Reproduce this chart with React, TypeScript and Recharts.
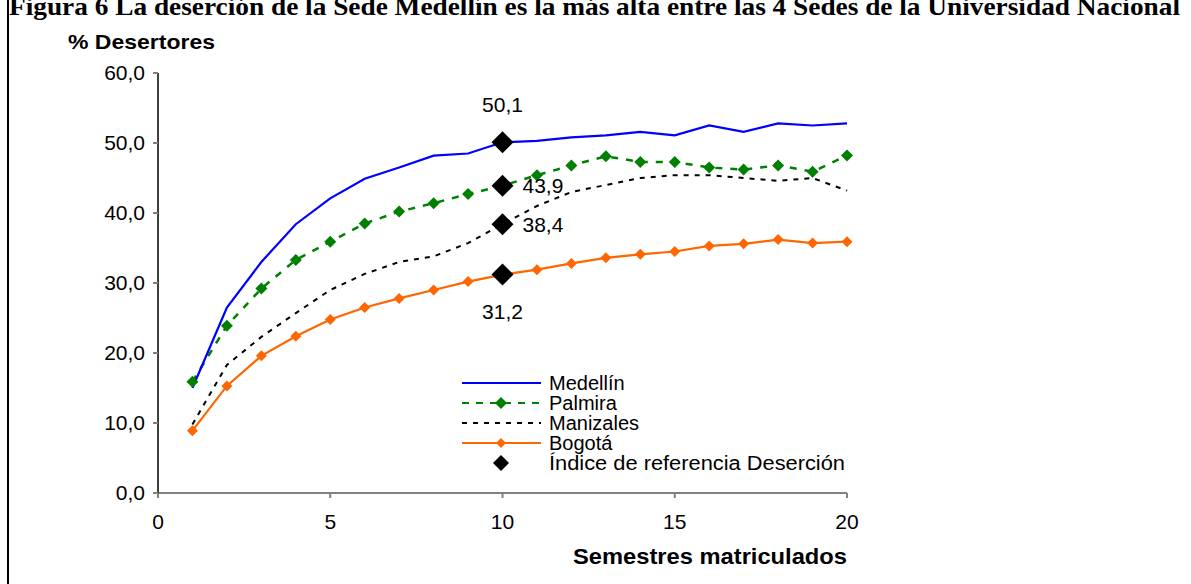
import React from "react";
import { ComposedChart, Line, Scatter, XAxis, YAxis } from "recharts";

// Semestres matriculados 1..20
const semesters = [1, 2, 3, 4, 5, 6, 7, 8, 9, 10, 11, 12, 13, 14, 15, 16, 17, 18, 19, 20];

// % desertores por sede
const medellin = [15.0, 26.5, 33.0, 38.4, 42.1, 44.9, 46.5, 48.2, 48.5, 50.1, 50.3, 50.8, 51.1, 51.6, 51.1, 52.5, 51.6, 52.8, 52.5, 52.8];
const palmira = [15.9, 23.9, 29.2, 33.3, 35.9, 38.5, 40.2, 41.4, 42.7, 43.9, 45.4, 46.8, 48.1, 47.3, 47.3, 46.5, 46.2, 46.8, 45.9, 48.2];
const manizales = [9.8, 18.3, 22.3, 25.7, 29.0, 31.3, 33.0, 33.8, 35.7, 38.4, 41.0, 43.0, 44.0, 45.0, 45.4, 45.4, 45.0, 44.6, 45.0, 43.2];
const bogota = [8.9, 15.3, 19.6, 22.4, 24.8, 26.5, 27.8, 29.0, 30.2, 31.2, 31.9, 32.8, 33.6, 34.1, 34.5, 35.3, 35.6, 36.2, 35.7, 35.9];

// Índice de referencia Deserción (semestre 10)
const indexSemester = 10;
const indexValues = [50.1, 43.9, 38.4, 31.2];

const xTicks = [0, 5, 10, 15, 20];
const yTicks = [0, 10, 20, 30, 40, 50, 60];

const title =
  "Figura 6 La deserción de la Sede Medellín es la más alta entre las 4 Sedes de la Universidad Nacional";

const data = semesters.map((s, i) => ({
  sem: s,
  medellin: medellin[i],
  palmira: palmira[i],
  manizales: manizales[i],
  bogota: bogota[i],
}));

const indexData = indexValues.map((v) => ({ sem: indexSemester, v }));

const SANS = "'Liberation Sans', Arial, sans-serif";
const FS = 21;

const fmt = (v: number) => v.toFixed(1).replace(".", ",");

const diamondPts = (cx: number, cy: number, r: number) =>
  `${cx},${cy - r} ${cx + r},${cy} ${cx},${cy + r} ${cx - r},${cy}`;

const makeDot = (fill: string, r: number) => (p: any) => {
  if (p.cx == null || p.cy == null) return <g key={p.index} />;
  return <polygon key={`d-${p.index}`} points={diamondPts(p.cx, p.cy, r)} fill={fill} />;
};

// where each reference label sits relative to its marker
const labelPlacement = ["above", "right", "right", "below"];

const IndexShape = (p: any) => {
  const { cx, cy, index } = p;
  const place = labelPlacement[index];
  let tx = cx;
  let ty = cy;
  let anchor: "middle" | "start" = "middle";
  if (place === "above") ty = cy - 38;
  if (place === "below") ty = cy + 37;
  if (place === "right") {
    tx = cx + 20;
    anchor = "start";
  }
  return (
    <g>
      <polygon points={diamondPts(cx, cy, 11)} fill="#000" />
      <text x={tx} y={ty} dy="0.36em" textAnchor={anchor} fontFamily={SANS} fontSize={FS} fill="#000">
        {fmt(p.payload.v)}
      </text>
    </g>
  );
};

const legendItems = [
  { name: "Medellín", color: "#0000FF", dash: undefined, marker: null },
  { name: "Palmira", color: "#008000", dash: "7 7", marker: 6 },
  { name: "Manizales", color: "#000000", dash: "5 6", marker: null },
  { name: "Bogotá", color: "#FF6600", dash: undefined, marker: 5 },
];

export default function App() {
  return (
    <div
      style={{
        position: "absolute",
        left: 0,
        top: 0,
        width: 1191,
        height: 584,
        background: "#fff",
        overflow: "hidden",
      }}
    >
      <ComposedChart
        width={1191}
        height={584}
        data={data}
        margin={{ top: 73, right: 344, bottom: 51, left: 0 }}
      >
        <XAxis
          dataKey="sem"
          type="number"
          domain={[0, 20]}
          ticks={xTicks}
          height={40}
          stroke="#808080"
          strokeWidth={2}
          tickSize={5}
          tickMargin={16}
          tick={{ fill: "#000", fontSize: FS, fontFamily: SANS }}
        />
        <YAxis
          dataKey="v"
          type="number"
          domain={[0, 60]}
          ticks={yTicks}
          width={158}
          stroke="#000"
          strokeWidth={1.5}
          tickLine={{ stroke: "#808080", strokeWidth: 2 }}
          tickSize={5}
          tickMargin={8}
          tickFormatter={fmt}
          tick={{ fill: "#000", fontSize: FS, fontFamily: SANS }}
        />
        <Line
          dataKey="manizales"
          stroke="#000"
          strokeWidth={2}
          strokeDasharray="5 6"
          dot={false}
          isAnimationActive={false}
        />
        <Line
          dataKey="bogota"
          stroke="#FF6600"
          strokeWidth={2.2}
          dot={makeDot("#FF6600", 5.5)}
          isAnimationActive={false}
        />
        <Line
          dataKey="palmira"
          stroke="#008000"
          strokeWidth={2.5}
          strokeDasharray="7 8"
          dot={makeDot("#008000", 6)}
          isAnimationActive={false}
        />
        <Line
          dataKey="medellin"
          stroke="#0000FF"
          strokeWidth={2.2}
          dot={false}
          isAnimationActive={false}
        />
        <Scatter data={indexData} dataKey="v" shape={IndexShape} isAnimationActive={false} />
      </ComposedChart>

      <svg
        width={1191}
        height={584}
        style={{ position: "absolute", left: 0, top: 0, pointerEvents: "none" }}
      >
        <line x1={8} y1={0} x2={8} y2={584} stroke="#000" strokeWidth={2} />
        <text
          x={9}
          y={15}
          textLength={1171}
          lengthAdjust="spacingAndGlyphs"
          fontFamily="'Liberation Serif', 'Times New Roman', serif"
          fontWeight="bold"
          fontSize={25}
          fill="#000"
        >
          {title}
        </text>
        <text
          x={68}
          y={49}
          textLength={147}
          lengthAdjust="spacingAndGlyphs"
          fontFamily={SANS}
          fontWeight="bold"
          fontSize={21}
          fill="#000"
        >
          % Desertores
        </text>
        <text
          x={573}
          y={564}
          textLength={274}
          lengthAdjust="spacingAndGlyphs"
          fontFamily={SANS}
          fontWeight="bold"
          fontSize={22}
          fill="#000"
        >
          Semestres matriculados
        </text>
        {legendItems.map((it, i) => {
          const y = 383 + i * 20;
          return (
            <g key={it.name}>
              <line x1={462} x2={541} y1={y} y2={y} stroke={it.color} strokeWidth={2.2} strokeDasharray={it.dash} />
              {it.marker ? <polygon points={diamondPts(501, y, it.marker)} fill={it.color} /> : null}
              <text x={549} y={y} dy="0.36em" fontFamily={SANS} fontSize={20} fill="#000">
                {it.name}
              </text>
            </g>
          );
        })}
        <polygon points={diamondPts(501, 463, 8)} fill="#000" />
        <text
          x={549}
          y={463}
          dy="0.36em"
          textLength={296}
          lengthAdjust="spacingAndGlyphs"
          fontFamily={SANS}
          fontSize={20}
          fill="#000"
        >
          Índice de referencia Deserción
        </text>
      </svg>
    </div>
  );
}
